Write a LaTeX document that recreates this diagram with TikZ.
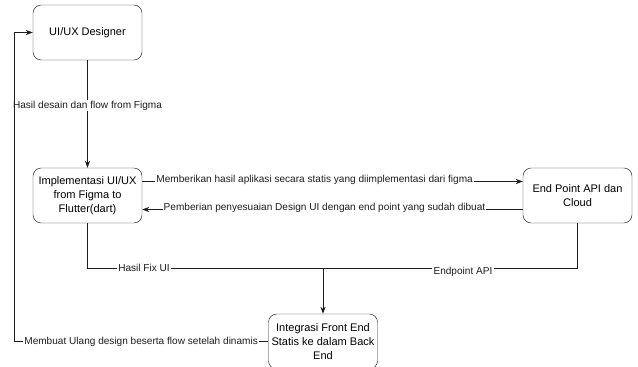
\documentclass[tikz,border=0pt]{standalone}
\usepackage{fontspec}
\setmainfont{Liberation Sans}
\usepackage{xcolor}
\usetikzlibrary{arrows.meta, positioning, calc}
\definecolor{linegray}{RGB}{30, 30, 30}

\tikzset{
  stepbox/.style={draw=linegray, rounded corners=7pt, minimum width=3.27cm, minimum height=1.65cm, align=center, inner sep=2pt, font=\fontsize{9.4}{11.9}\selectfont},
  flow/.style={linegray, line width=0.8pt},
  flowlabel/.style={fill=white, inner sep=1pt, font=\fontsize{8.6}{10}\selectfont}
}

\begin{document}
\begin{tikzpicture}[x=0.03cm, y=-0.03cm]
  \useasboundingbox (0,0) rectangle (638,367);

  % Boxes
  \node[stepbox] (designer) at (87.5,32.5) {UI/UX Designer};
  \node[stepbox] (impl) at (87.5,195.5) {Implementasi UI/UX\\from Figma to\\Flutter(dart)};
  \node[stepbox] (endpoint) at (577.5,195.5) {End Point API dan\\Cloud};
  \node[stepbox] (integ) at (323,341.5) {Integrasi Front End\\Statis ke dalam Back\\End};

  % Helper points
  \coordinate (merge) at (323,268);
  \coordinate (loop) at (14,341.5);

  % Designer to implementation
  \draw[flow, -{Stealth[length=6pt]}] (designer) -- node[flowlabel, pos=0.42] {Hasil desain dan flow from Figma} (impl);

  % Implementation and end point
  \draw[flow, -{Stealth[length=6pt]}] ($(impl.east)+(0,-14)$) -- node[flowlabel, pos=0.453, yshift=1pt] {Memberikan hasil aplikasi secara statis yang diimplementasi dari figma} ($(endpoint.west)+(0,-14)$);
  \draw[flow, -{Stealth[length=6pt]}] ($(endpoint.west)+(0,14)$) -- node[flowlabel, pos=0.521, yshift=1pt] {Pemberian penyesuaian Design UI dengan end point yang sudah dibuat} ($(impl.east)+(0,14)$);

  % Into integration
  \draw[flow] (impl.south) |- node[flowlabel, pos=0.62] {Hasil Fix UI} (merge);
  \draw[flow] (endpoint.south) |- node[flowlabel, pos=0.725, yshift=-3pt] {Endpoint API} (merge);
  \draw[flow, -{Stealth[length=6pt]}] (merge) -- (integ.north);

  % Back to designer
  \draw[flow, -{Stealth[length=6pt]}] (integ.west) -- node[flowlabel, pos=0.5] {Membuat Ulang design beserta flow setelah dinamis} (loop) |- (designer.west);
\end{tikzpicture}
\end{document}
